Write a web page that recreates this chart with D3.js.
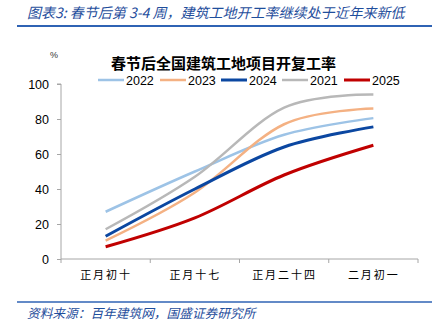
<!DOCTYPE html>
<html><head><meta charset="utf-8">
<script src="https://cdn.jsdelivr.net/npm/d3@7"></script>
<style>
body{margin:0;background:#fff;}
svg{display:block;}
</style></head>
<body>
<script>
const categories = ["正月初十", "正月十七", "正月二十四", "二月初一"];
const seriesNames = ["2022", "2023", "2024", "2021", "2025"];
const v2022 = [27, 50, 71, 80.5];
const v2023 = [10.5, 38, 77, 86];
const v2024 = [13, 40, 64, 75.5];
const v2021 = [17, 47, 86.5, 94];
const v2025 = [7, 23.5, 48, 65];
const yTicks = [0, 20, 40, 60, 80, 100];
const headerText = "图表3:  春节后第 3-4 周，建筑工地开工率继续处于近年来新低";
const chartTitle = "春节后全国建筑工地项目开复工率";
const sourceText = "资料来源：百年建筑网，国盛证券研究所";

const colors = {"2022":"#9DC3E6","2023":"#F4B183","2024":"#0B47A1","2021":"#B8B8B8","2025":"#C00000"};
const widths = {"2022":2.5,"2023":2.5,"2024":3,"2021":2.5,"2025":3};
const values = {"2022":v2022,"2023":v2023,"2024":v2024,"2021":v2021,"2025":v2025};

const W = 436, H = 329;
const svg = d3.select("body").append("svg").attr("width", W).attr("height", H);
const cjk = "'Noto Sans CJK SC', 'Noto Sans', sans-serif";

// header
svg.append("text").attr("x", 27).attr("y", 18).text(headerText)
  .attr("font-family", cjk).attr("font-size", 14).attr("font-style", "italic")
  .attr("fill", "#1F4E9C");
svg.append("line").attr("x1", 17).attr("x2", 432).attr("y1", 26).attr("y2", 26)
  .attr("stroke", "#2F63B4").attr("stroke-width", 2);

// footer
svg.append("line").attr("x1", 17).attr("x2", 432).attr("y1", 302).attr("y2", 302)
  .attr("stroke", "#2F63B4").attr("stroke-width", 1.5);
svg.append("text").attr("x", 27).attr("y", 318).text(sourceText)
  .attr("font-family", cjk).attr("font-size", 12.7).attr("font-style", "italic")
  .attr("fill", "#1F4E9C");

// chart title
svg.append("text").attr("x", 223.5).attr("y", 69).attr("text-anchor", "middle").text(chartTitle)
  .attr("font-family", cjk).attr("font-size", 15).attr("font-weight", "bold").attr("fill", "#000");
svg.append("text").attr("x", 50).attr("y", 58).text("%")
  .attr("font-family", "'Liberation Sans', Arial, sans-serif").attr("font-size", 9).attr("fill", "#333");

// scales
const x0 = 61, x1 = 418, yTop = 84, yBot = 259;
const band = d3.scaleBand().domain(categories).range([x0, x1]).padding(0);
const xp = d3.scalePoint().domain(categories).range([x0, x1]).padding(0.5);
const y = d3.scaleLinear().domain([0, 100]).range([yBot, yTop]);

// y axis
const yAxis = svg.append("g").attr("transform", `translate(${x0},0)`)
  .call(d3.axisLeft(y).tickValues(yTicks).tickSize(4).tickPadding(8));
yAxis.select(".domain").attr("stroke", "#A6A6A6").attr("d", `M-4,${yTop}H0V${yBot}`);
yAxis.selectAll(".tick line").attr("stroke", "#A6A6A6");
yAxis.selectAll(".tick text").attr("font-family", "'Liberation Sans', Arial, sans-serif")
  .attr("font-size", 12.5).attr("fill", "#000");

// x axis
const xAxis = svg.append("g").attr("transform", `translate(0,${yBot})`)
  .call(d3.axisBottom(xp).tickSize(0).tickPadding(12));
xAxis.select(".domain").attr("stroke", "#A6A6A6").attr("d", `M${x0},0H${x1}`);
xAxis.selectAll(".tick text").attr("font-family", cjk).attr("font-size", 11)
  .attr("letter-spacing", "2px").attr("fill", "#000");
const bounds = categories.map(c => band(c)).concat([x1]);
svg.append("g").selectAll("line").data(bounds).join("line")
  .attr("x1", d => d).attr("x2", d => d).attr("y1", yBot).attr("y2", yBot + 4)
  .attr("stroke", "#A6A6A6");

// lines
const line = d3.line().x((d, i) => xp(categories[i])).y(d => y(d)).curve(d3.curveCatmullRom.alpha(0));
const drawOrder = ["2022", "2023", "2021", "2024", "2025"];
svg.append("g").selectAll("path").data(drawOrder).join("path")
  .attr("d", s => line(values[s])).attr("fill", "none")
  .attr("stroke", s => colors[s]).attr("stroke-width", s => widths[s]).attr("stroke-linejoin", "round");

// legend
const legX = [98, 160, 221, 282, 344];
const leg = svg.append("g").selectAll("g").data(seriesNames).join("g")
  .attr("transform", (s, i) => `translate(${legX[i]},80)`);
leg.append("line").attr("x1", 0).attr("x2", 26).attr("y1", 0).attr("y2", 0)
  .attr("stroke", s => colors[s]).attr("stroke-width", s => widths[s]);
leg.append("text").attr("x", 28).attr("y", 4.5).text(s => s)
  .attr("font-family", "'Liberation Sans', Arial, sans-serif").attr("font-size", 12.5).attr("fill", "#000");
</script>
</body></html>
